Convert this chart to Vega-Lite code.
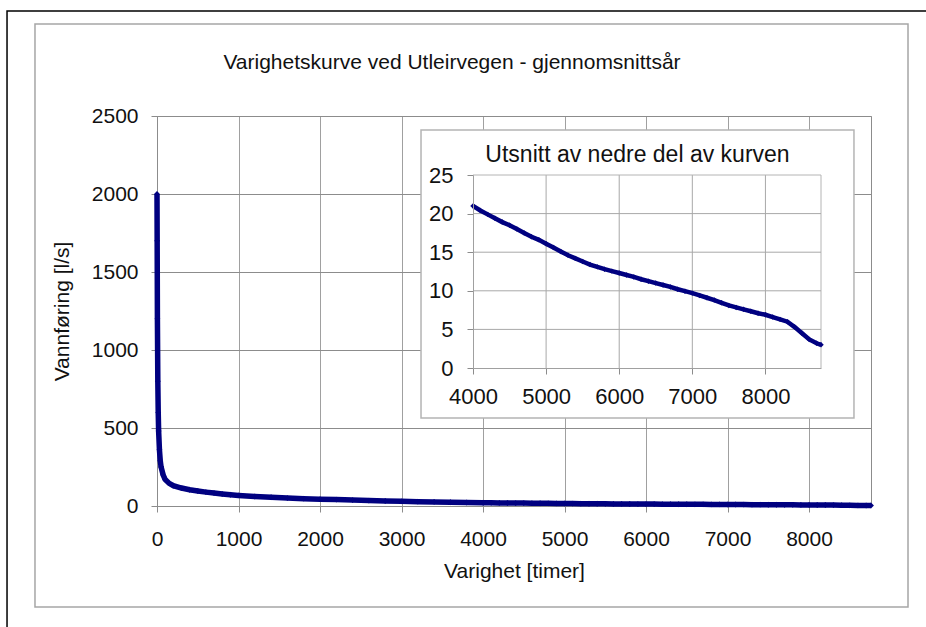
{
  "$schema": "https://vega.github.io/schema/vega-lite/v6.json",
  "width": 714,
  "height": 390,
  "autosize": "none",
  "padding": {"left": 157, "top": 116, "right": 55, "bottom": 121},
  "background": "#ffffff",
  "config": {
    "font": "Liberation Sans",
    "view": {"stroke": "#8c8c8c", "strokeWidth": 1},
    "axis": {"labelColor": "#111111", "titleColor": "#111111", "titleFontWeight": "normal", "labelFont": "Liberation Sans", "titleFont": "Liberation Sans"}
  },
  "datasets": {
    "flow": [
      {"timer": 0, "q": 2000},
      {"timer": 2, "q": 1700},
      {"timer": 5, "q": 1200},
      {"timer": 10, "q": 800},
      {"timer": 15, "q": 600},
      {"timer": 20, "q": 480},
      {"timer": 30, "q": 360},
      {"timer": 40, "q": 290},
      {"timer": 50, "q": 250},
      {"timer": 75, "q": 200},
      {"timer": 100, "q": 170},
      {"timer": 150, "q": 145},
      {"timer": 200, "q": 130},
      {"timer": 300, "q": 115},
      {"timer": 400, "q": 104},
      {"timer": 500, "q": 96},
      {"timer": 600, "q": 89},
      {"timer": 700, "q": 83},
      {"timer": 800, "q": 77},
      {"timer": 900, "q": 72},
      {"timer": 1000, "q": 68},
      {"timer": 1200, "q": 61},
      {"timer": 1400, "q": 56},
      {"timer": 1600, "q": 51},
      {"timer": 1800, "q": 47},
      {"timer": 2000, "q": 44},
      {"timer": 2200, "q": 41},
      {"timer": 2400, "q": 38},
      {"timer": 2600, "q": 35},
      {"timer": 2800, "q": 32},
      {"timer": 3000, "q": 30},
      {"timer": 3200, "q": 28},
      {"timer": 3400, "q": 26},
      {"timer": 3600, "q": 24},
      {"timer": 3800, "q": 22.5},
      {"timer": 4000, "q": 21},
      {"timer": 4100, "q": 20.4},
      {"timer": 4200, "q": 19.9},
      {"timer": 4300, "q": 19.4},
      {"timer": 4400, "q": 18.9},
      {"timer": 4500, "q": 18.5},
      {"timer": 4600, "q": 18.0},
      {"timer": 4700, "q": 17.5},
      {"timer": 4800, "q": 17.0},
      {"timer": 4900, "q": 16.6},
      {"timer": 5000, "q": 16.1},
      {"timer": 5100, "q": 15.6},
      {"timer": 5200, "q": 15.1},
      {"timer": 5300, "q": 14.6},
      {"timer": 5400, "q": 14.2},
      {"timer": 5500, "q": 13.8},
      {"timer": 5600, "q": 13.4},
      {"timer": 5700, "q": 13.1},
      {"timer": 5800, "q": 12.8},
      {"timer": 5900, "q": 12.55},
      {"timer": 6000, "q": 12.3},
      {"timer": 6100, "q": 12.05},
      {"timer": 6200, "q": 11.8},
      {"timer": 6300, "q": 11.5},
      {"timer": 6400, "q": 11.25},
      {"timer": 6500, "q": 11.0},
      {"timer": 6600, "q": 10.75},
      {"timer": 6700, "q": 10.5},
      {"timer": 6800, "q": 10.2},
      {"timer": 6900, "q": 9.95},
      {"timer": 7000, "q": 9.7},
      {"timer": 7100, "q": 9.4},
      {"timer": 7200, "q": 9.1},
      {"timer": 7300, "q": 8.8},
      {"timer": 7400, "q": 8.45},
      {"timer": 7500, "q": 8.1},
      {"timer": 7600, "q": 7.85},
      {"timer": 7700, "q": 7.6},
      {"timer": 7800, "q": 7.35},
      {"timer": 7900, "q": 7.1},
      {"timer": 8000, "q": 6.9},
      {"timer": 8100, "q": 6.6},
      {"timer": 8200, "q": 6.3},
      {"timer": 8300, "q": 6.0},
      {"timer": 8400, "q": 5.3},
      {"timer": 8500, "q": 4.5},
      {"timer": 8600, "q": 3.7},
      {"timer": 8700, "q": 3.2},
      {"timer": 8760, "q": 3.0}
    ]
  },
  "layer": [
    {
      "layer": [
        {
          "data": {"values": [{}]},
          "mark": {"type": "rect", "filled": false, "stroke": "#000000", "strokeWidth": 1.5},
          "encoding": {
            "x": {"datum": -1840, "type": "quantitative", "scale": {"domain": [0, 8760], "nice": false, "zero": false}},
            "x2": {"datum": 9600},
            "y": {"datum": 3173, "type": "quantitative", "scale": {"domain": [0, 2500], "nice": false}},
            "y2": {"datum": -900}
          }
        },
        {
          "data": {"values": [{}]},
          "mark": {"type": "rect", "filled": false, "stroke": "#a6a6a6", "strokeWidth": 1.5},
          "encoding": {
            "x": {"datum": -1497, "type": "quantitative", "scale": {"domain": [0, 8760], "nice": false, "zero": false}},
            "x2": {"datum": 9214},
            "y": {"datum": 3090, "type": "quantitative", "scale": {"domain": [0, 2500], "nice": false}},
            "y2": {"datum": -647}
          }
        },
        {
          "data": {"values": [{"title": "Varighetskurve ved Utleirvegen - gjennomsnittsår"}]},
          "mark": {"type": "text", "fontSize": 21, "font": "Liberation Sans", "align": "center", "baseline": "middle", "color": "#111111"},
          "encoding": {
            "x": {"datum": 3619, "type": "quantitative", "scale": {"domain": [0, 8760], "nice": false, "zero": false}},
            "y": {"datum": 2840, "type": "quantitative", "scale": {"domain": [0, 2500], "nice": false}},
            "text": {"field": "title"}
          }
        },
        {
          "data": {"name": "flow"},
          "mark": {"type": "line", "color": "#000080", "strokeWidth": 5.5, "point": {"filled": true, "shape": "diamond", "size": 34, "color": "#000080"}},
          "encoding": {
            "x": {
              "field": "timer", "type": "quantitative",
              "scale": {"domain": [0, 8760], "nice": false, "zero": false},
              "axis": {
                "values": [0, 1000, 2000, 3000, 4000, 5000, 6000, 7000, 8000], "format": "d",
                "grid": true, "gridColor": "#a0a0a0", "domainColor": "#8c8c8c", "tickColor": "#8c8c8c",
                "tickSize": 6, "labelFontSize": 21, "labelPadding": 16, "labelFlush": false,
                "title": "Varighet [timer]", "titleFontSize": 21, "titlePadding": 11
              }
            },
            "y": {
              "field": "q", "type": "quantitative",
              "scale": {"domain": [0, 2500], "nice": false},
              "axis": {
                "values": [0, 500, 1000, 1500, 2000, 2500], "format": "d",
                "grid": true, "gridColor": "#8c8c8c", "domainColor": "#8c8c8c", "tickColor": "#8c8c8c",
                "tickSize": 6, "labelFontSize": 21, "labelPadding": 13, "labelFlush": false,
                "title": "Vannføring [l/s]", "titleFontSize": 21, "titlePadding": 19
              }
            }
          }
        }
      ]
    },
    {
      "layer": [
        {
          "data": {"values": [{}]},
          "mark": {"type": "rect", "fill": "#ffffff", "stroke": "#b4b4b4", "strokeWidth": 1.5},
          "encoding": {
            "x": {"datum": 3289, "type": "quantitative", "scale": {"domain": [4000, 8760], "range": [316, 664], "nice": false, "zero": false}},
            "x2": {"datum": 9211},
            "y": {"datum": 30.83, "type": "quantitative", "scale": {"domain": [0, 25], "range": [252, 59], "nice": false}},
            "y2": {"datum": -6.48}
          }
        },
        {
          "data": {"values": [{"title": "Utsnitt av nedre del av kurven"}]},
          "mark": {"type": "text", "fontSize": 23, "font": "Liberation Sans", "align": "center", "baseline": "middle", "color": "#111111"},
          "encoding": {
            "x": {"datum": 6250, "type": "quantitative", "scale": {"domain": [4000, 8760], "range": [316, 664], "nice": false, "zero": false}},
            "y": {"datum": 27.6, "type": "quantitative", "scale": {"domain": [0, 25], "range": [252, 59], "nice": false}},
            "text": {"field": "title"}
          }
        },
        {"data": {"values": [{}]}, "mark": {"type": "rule", "color": "#a8a8a8", "strokeWidth": 1}, "encoding": {"x": {"datum": 5000, "type": "quantitative"}, "y": {"datum": 0, "type": "quantitative"}, "y2": {"datum": 25}}},
        {"data": {"values": [{}]}, "mark": {"type": "rule", "color": "#a8a8a8", "strokeWidth": 1}, "encoding": {"x": {"datum": 6000, "type": "quantitative"}, "y": {"datum": 0, "type": "quantitative"}, "y2": {"datum": 25}}},
        {"data": {"values": [{}]}, "mark": {"type": "rule", "color": "#a8a8a8", "strokeWidth": 1}, "encoding": {"x": {"datum": 7000, "type": "quantitative"}, "y": {"datum": 0, "type": "quantitative"}, "y2": {"datum": 25}}},
        {"data": {"values": [{}]}, "mark": {"type": "rule", "color": "#a8a8a8", "strokeWidth": 1}, "encoding": {"x": {"datum": 8000, "type": "quantitative"}, "y": {"datum": 0, "type": "quantitative"}, "y2": {"datum": 25}}},
        {"data": {"values": [{}]}, "mark": {"type": "rule", "color": "#b4b4b4", "strokeWidth": 1}, "encoding": {"x": {"datum": 8760, "type": "quantitative"}, "y": {"datum": 0, "type": "quantitative"}, "y2": {"datum": 25}}},
        {"data": {"values": [{}]}, "mark": {"type": "rule", "color": "#a8a8a8", "strokeWidth": 1}, "encoding": {"y": {"datum": 5, "type": "quantitative"}, "x": {"datum": 4000, "type": "quantitative"}, "x2": {"datum": 8760}}},
        {"data": {"values": [{}]}, "mark": {"type": "rule", "color": "#a8a8a8", "strokeWidth": 1}, "encoding": {"y": {"datum": 10, "type": "quantitative"}, "x": {"datum": 4000, "type": "quantitative"}, "x2": {"datum": 8760}}},
        {"data": {"values": [{}]}, "mark": {"type": "rule", "color": "#a8a8a8", "strokeWidth": 1}, "encoding": {"y": {"datum": 15, "type": "quantitative"}, "x": {"datum": 4000, "type": "quantitative"}, "x2": {"datum": 8760}}},
        {"data": {"values": [{}]}, "mark": {"type": "rule", "color": "#a8a8a8", "strokeWidth": 1}, "encoding": {"y": {"datum": 20, "type": "quantitative"}, "x": {"datum": 4000, "type": "quantitative"}, "x2": {"datum": 8760}}},
        {"data": {"values": [{}]}, "mark": {"type": "rule", "color": "#b4b4b4", "strokeWidth": 1}, "encoding": {"y": {"datum": 25, "type": "quantitative"}, "x": {"datum": 4000, "type": "quantitative"}, "x2": {"datum": 8760}}},
        {
          "data": {"name": "flow"},
          "transform": [{"filter": "datum.timer >= 4000"}],
          "mark": {"type": "line", "color": "#000080", "strokeWidth": 4.5, "point": {"filled": true, "shape": "diamond", "size": 30, "color": "#000080"}},
          "encoding": {
            "x": {
              "field": "timer", "type": "quantitative",
              "scale": {"domain": [4000, 8760], "range": [316, 664], "nice": false, "zero": false},
              "axis": {
                "orient": "bottom", "offset": -138, "zindex": 1,
                "values": [4000, 5000, 6000, 7000, 8000], "format": "d",
                "grid": false, "domainColor": "#a0a0a0", "tickColor": "#8c8c8c",
                "tickSize": 6, "labelFontSize": 22, "labelPadding": 12, "labelFlush": false,
                "title": null
              }
            },
            "y": {
              "field": "q", "type": "quantitative",
              "scale": {"domain": [0, 25], "range": [252, 59], "nice": false},
              "axis": {
                "orient": "left", "offset": -316, "zindex": 1,
                "values": [0, 5, 10, 15, 20, 25], "format": "d",
                "grid": false, "domainColor": "#a0a0a0", "tickColor": "#8c8c8c",
                "tickSize": 6, "labelFontSize": 22, "labelPadding": 14, "labelFlush": false,
                "title": null
              }
            }
          }
        }
      ]
    }
  ],
  "resolve": {"scale": {"x": "independent", "y": "independent"}, "axis": {"x": "independent", "y": "independent"}}
}
